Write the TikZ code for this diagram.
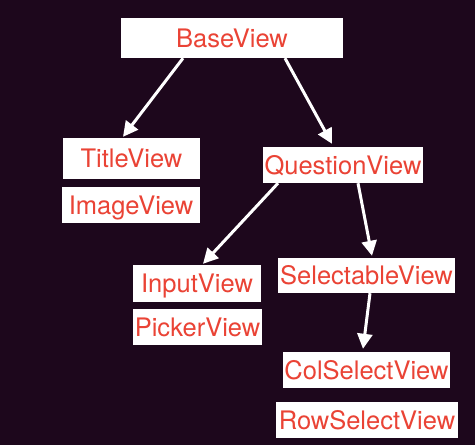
\documentclass[tikz,border=0pt]{standalone}
\usepackage{fontspec}
\setmainfont{TeX Gyre Heros}
\usetikzlibrary{arrows.meta}
\definecolor{bg}{RGB}{29,7,28}
\definecolor{lbl}{RGB}{234,67,53}
\tikzset{
  box/.style={fill=white, text=lbl, font=\fontsize{25.5}{30}\selectfont, inner xsep=0pt, inner ysep=0pt,
    text height=18.2pt, text depth=0pt, anchor=center},
  arr/.style={draw=white, line width=3pt, -{Triangle[length=15pt,width=15pt]}}
}
\begin{document}
\begin{tikzpicture}[x=1pt,y=-1pt]
\fill[bg] (0,0) rectangle (475,445);
\useasboundingbox (0,0) rectangle (475,445);
\node[box, minimum width=222pt, minimum height=40pt] (base) at (232,38) {BaseView};
\node[box, minimum width=137pt, minimum height=41pt] (title) at (131.5,158.5) {TitleView};
\node[box, minimum width=138pt, minimum height=36pt] (image) at (131,205) {ImageView};
\node[box, minimum width=160pt, minimum height=36pt] (question) at (343,165) {QuestionView};
\node[box, minimum width=128pt, minimum height=37pt] (input) at (197,283.5) {InputView};
\node[box, minimum width=129pt, minimum height=36pt] (picker) at (197.5,327) {PickerView};
\node[box, minimum width=177pt, minimum height=35pt] (select) at (366.5,275.5) {SelectableView};
\node[box, minimum width=167pt, minimum height=36pt] (col) at (366.5,370) {ColSelectView};
\node[box, minimum width=182pt, minimum height=36pt] (row) at (367,420) {RowSelectView};
\draw[arr] ([xshift=-49pt]base.south) -- ([xshift=-8.5pt,yshift=1pt]title.north);
\draw[arr] ([xshift=53pt]base.south) -- ([xshift=-11pt,yshift=3pt]question.north);
\draw[arr] ([xshift=-65pt]question.south) -- ([xshift=6pt,yshift=1pt]input.north);
\draw[arr] ([xshift=15pt]question.south) -- ([xshift=5.5pt,yshift=2pt]select.north);
\draw[arr] ([xshift=3.5pt]select.south) -- ([xshift=-3.5pt,yshift=3pt]col.north);
\end{tikzpicture}
\end{document}
